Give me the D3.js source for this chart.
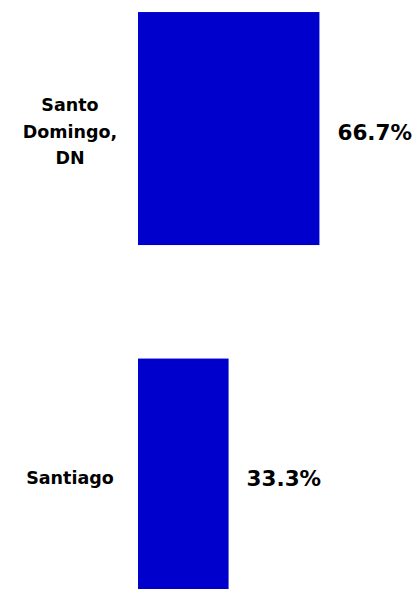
<!DOCTYPE html>
<html>
<head>
<meta charset="utf-8">
<script src="https://cdn.jsdelivr.net/npm/d3@7"></script>
<style>
  html, body { margin: 0; padding: 0; background: #ffffff; }
  svg { display: block; }
</style>
</head>
<body>
<script>
const categories = ["Santo Domingo, DN", "Santiago"];
const categoryLines = [["Santo", "Domingo,", "DN"], ["Santiago"]];
const values = [66.7, 33.3];
const valueLabels = ["66.7%", "33.3%"];

const W = 416, H = 589;
const svg = d3.select("body").append("svg").attr("width", W).attr("height", H);

const x = d3.scaleLinear().domain([0, 100]).range([138, 410]);
const y = d3.scaleBand().domain(categories).range([-43.4, 647]).paddingInner(0.3276).paddingOuter(0.16);

const data = categories.map((c, i) => ({ c, v: values[i], lines: categoryLines[i], label: valueLabels[i] }));

svg.selectAll("rect.bar").data(data).enter().append("rect")
  .attr("class", "bar")
  .attr("x", x(0))
  .attr("y", d => y(d.c))
  .attr("width", d => x(d.v) - x(0))
  .attr("height", y.bandwidth())
  .attr("fill", "#0000CC");

const font = "'DejaVu Sans', sans-serif";
const lh = 26.7;

const cat = svg.selectAll("text.cat").data(data).enter().append("text")
  .attr("class", "cat")
  .attr("text-anchor", "middle")
  .attr("font-family", font)
  .attr("font-weight", "bold")
  .attr("font-size", 17.5)
  .attr("fill", "#000");
cat.each(function(d) {
  const cy = y(d.c) + y.bandwidth() / 2;
  const n = d.lines.length;
  d3.select(this).selectAll("tspan").data(d.lines).enter().append("tspan")
    .attr("x", 70)
    .attr("y", (t, j) => cy + 9 + (j - (n - 1) / 2) * lh)
    .text(t => t);
});

svg.selectAll("text.val").data(data).enter().append("text")
  .attr("class", "val")
  .attr("x", d => x(d.v) + 18)
  .attr("y", d => y(d.c) + y.bandwidth() / 2 + 11)
  .attr("font-family", font)
  .attr("font-weight", "bold")
  .attr("font-size", 21.5)
  .attr("fill", "#000")
  .text(d => d.label);
</script>
</body>
</html>
